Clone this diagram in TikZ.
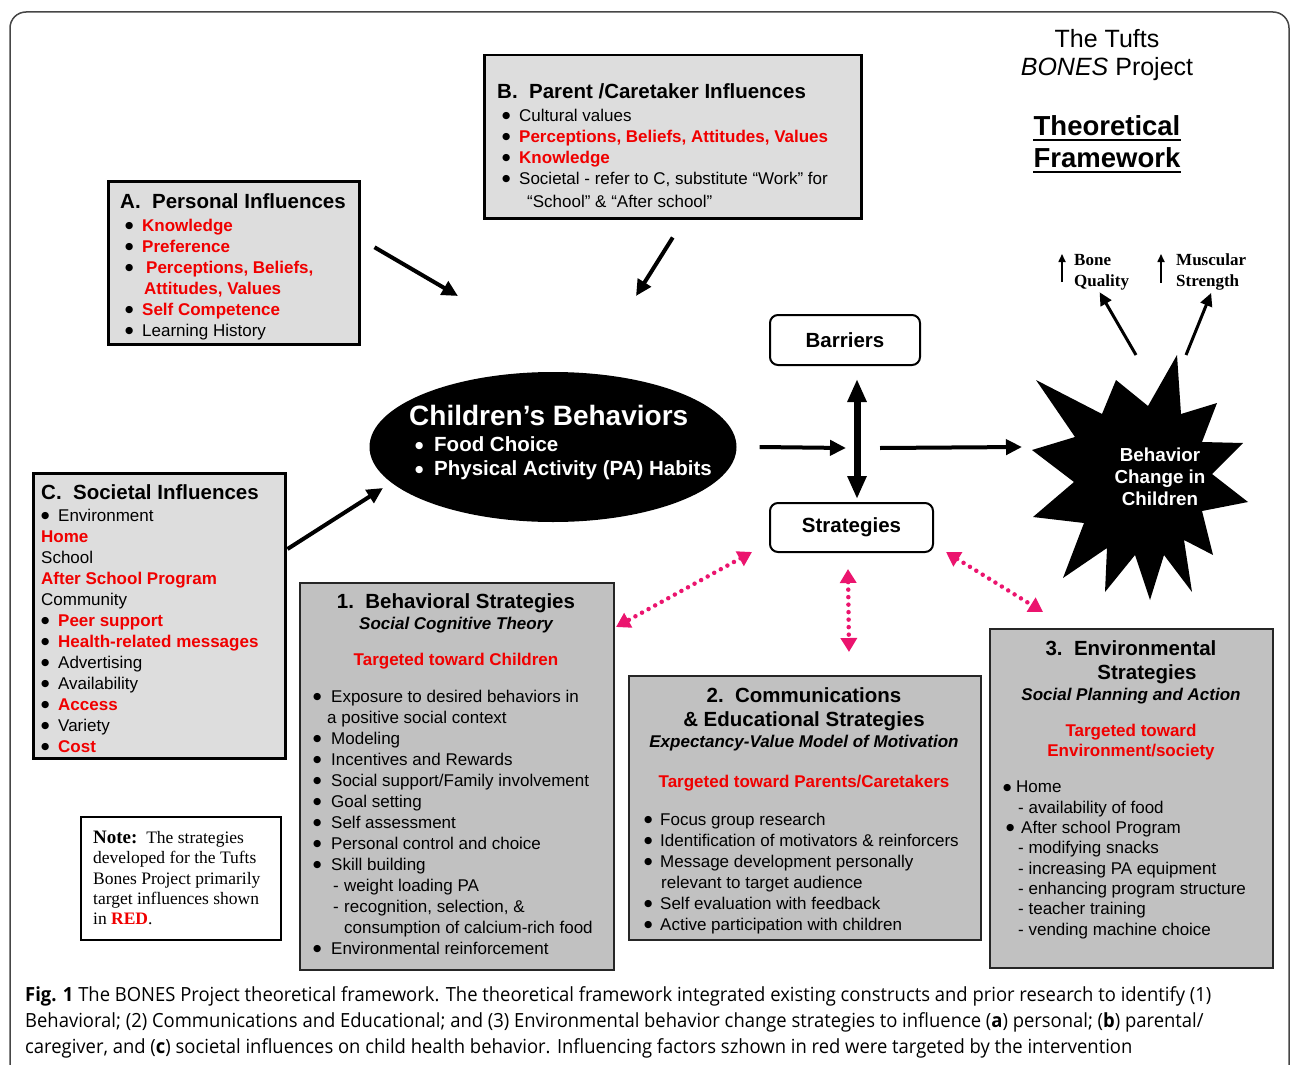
\documentclass[tikz,border=0pt]{standalone}
\usepackage{fontspec}
\setmainfont{Liberation Sans}
\newfontfamily\notefont{Liberation Serif}
\newfontfamily\dotfont{DejaVu Sans}
\newfontfamily\capfont[FakeStretch=0.945]{Open Sans}
\usetikzlibrary{arrows.meta, shapes.geometric, calc}
\definecolor{boxlight}{RGB}{221,221,221}
\definecolor{boxdark}{RGB}{193,193,193}
\definecolor{hired}{RGB}{240,0,0}
\definecolor{dotpink}{RGB}{235,20,110}
\definecolor{framegray}{RGB}{70,70,70}
\newcommand{\hl}[1]{\textcolor{hired}{\bfseries #1}}
\newcommand{\hd}[1]{{\fontsize{20.5}{24}\selectfont\bfseries #1}}
\newcommand{\bul}[1][17pt]{\makebox[#1][l]{\raisebox{2.8pt}{\dotfont\fontsize{9.5}{10}\selectfont ●}}}

\begin{document}
\begin{tikzpicture}[x=1pt, y=-1pt,
    inflbox/.style={draw=black, line width=2.5pt, fill=boxlight, anchor=north west, inner sep=0pt},
    stratbox/.style={draw=black!85, line width=2pt, fill=boxdark, anchor=north west, inner sep=0pt},
    listtext/.style={anchor=north west, inner sep=0pt, align=left, font=\fontsize{17}{21}\selectfont},
    headtext/.style={anchor=north, inner sep=0pt, align=center, font=\fontsize{17}{21}\selectfont},
    roundbox/.style={draw, line width=2pt, rounded corners=8pt, fill=white,
                     font=\fontsize{20.5}{24}\selectfont\bfseries},
    bigarrow/.style={line width=4pt, -{Triangle[length=16pt,width=15pt]}},
    thinarrow/.style={line width=3pt, -{Triangle[length=13pt,width=12pt]}},
    uparrow/.style={line width=1.6pt, -{Triangle[length=8pt,width=7pt]}},
    dotarrow/.style={dotpink, line width=4.5pt, line cap=round, dash pattern=on 0pt off 7.5pt,
                     {Triangle[length=14pt,width=16pt]}-{Triangle[length=14pt,width=16pt]}}]

    \useasboundingbox (0,0) rectangle (1290,1065);
    \draw[framegray, line width=1.5pt, rounded corners=16pt] (10,1075) -- (10,12) -- (1289,12) -- (1289,1075);

    % title
    \node[anchor=north, inner sep=0pt, align=center, font=\fontsize{25}{28}\selectfont] (tufts) at (1107,29)
        {The Tufts\\\textit{BONES} Project};
    \node[anchor=base, inner sep=0pt, font=\fontsize{27.5}{32}\selectfont\bfseries] (theo) at (1107,135) {Theoretical};
    \node[anchor=base, inner sep=0pt, font=\fontsize{27.5}{32}\selectfont\bfseries] (fwork) at (1107,167) {Framework};
    \draw[line width=2.5pt] ([yshift=-5pt]theo.base west) -- ([yshift=-5pt]theo.base east);
    \draw[line width=2.5pt] ([yshift=-5pt]fwork.base west) -- ([yshift=-5pt]fwork.base east);

    % influences
    \node[inflbox, minimum width=251pt, minimum height=163pt] (persbox) at (107,180) {};
    \node[listtext] (perstext) at (120,193) {\hd{A.~~Personal Influences}\\[2pt]
        \hspace*{5pt}\bul\hl{Knowledge}\\
        \hspace*{5pt}\bul\hl{Preference}\\
        \hspace*{5pt}\bul[21pt]\hl{Perceptions, Beliefs,}\\
        \hspace*{24pt}\hl{Attitudes, Values}\\
        \hspace*{5pt}\bul\hl{Self Competence}\\
        \hspace*{5pt}\bul Learning History};

    \node[inflbox, minimum width=377pt, minimum height=163pt] (parbox) at (483,54) {};
    \node[listtext] (partext) at (497,83) {\hd{B.~~Parent /Caretaker Influences}\\[2pt]
        \hspace*{5pt}\bul Cultural values\\
        \hspace*{5pt}\bul\hl{Perceptions, Beliefs, Attitudes, Values}\\
        \hspace*{5pt}\bul\hl{Knowledge}\\
        \hspace*{5pt}\bul Societal - refer to C, substitute “Work” for\\[2pt]
        \hspace*{30pt}“School” \& “After school”};

    \node[inflbox, minimum width=252pt, minimum height=285pt] (socbox) at (32,472) {};
    \node[listtext] (soctext) at (41,484) {\hd{C.~~Societal Influences}\\[1pt]
        \bul Environment\\
        \hl{Home}\\
        School\\
        \hl{After School Program}\\
        Community\\
        \bul\hl{Peer support}\\
        \bul\hl{Health-related messages}\\
        \bul Advertising\\
        \bul Availability\\
        \bul\hl{Access}\\
        \bul Variety\\
        \bul\hl{Cost}};

    \node[draw, line width=2pt, fill=white, anchor=north west, inner sep=0pt,
          minimum width=200pt, minimum height=123pt] (notebox) at (80,816) {};
    \node[listtext, font=\notefont\fontsize{17.5}{20.3}\selectfont] (notetext) at (93,831)
        {{\bfseries\fontsize{19}{20.3}\selectfont Note:}~~The strategies\\
         developed for the Tufts\\
         Bones Project primarily\\
         target influences shown\\
         in \textcolor{hired}{\bfseries RED}.};

    % children's behaviors
    \node[ellipse, fill=black, minimum width=367pt, minimum height=150pt] (kids) at (553,447) {};
    \node[listtext, text=white, font=\fontsize{20.5}{24}\selectfont\bfseries] (kidstext) at (409,405)
        {{\fontsize{28}{24}\selectfont Children’s Behaviors}\\[2pt]
         \hspace*{6pt}\bul[19pt]Food Choice\\
         \hspace*{6pt}\bul[19pt]Physical Activity (PA) Habits};

    \node[roundbox, minimum width=150pt, minimum height=50pt] (barr) at (845,340) {Barriers};
    \node[roundbox, minimum width=163pt, minimum height=49pt] (strat) at (851.5,527.5) {Strategies};

    % behavior change star
    \fill (1036,380) -- (1102,414) -- (1116,380) -- (1148,406) -- (1177,355) -- (1181,414)
        -- (1217,403) -- (1202,442) -- (1243,443) -- (1212,474) -- (1248,502) -- (1202,511)
        -- (1213,555) -- (1184,540) -- (1192,592) -- (1164,555) -- (1150,600) -- (1135,555)
        -- (1105,592) -- (1107,548) -- (1063,578) -- (1084,523) -- (1033,517) -- (1074,482)
        -- (1032,450) -- (1075,437) -- cycle;
    \node[text=white, align=center, font=\fontsize{18.8}{22}\selectfont\bfseries] (change) at (1160,477)
        {Behavior\\Change in\\Children};

    \node[anchor=north west, inner sep=0pt, align=left, font=\notefont\fontsize{17}{21}\selectfont\bfseries] (bone)
        at (1074,254) {Bone\\Quality};
    \node[anchor=north west, inner sep=0pt, align=left, font=\notefont\fontsize{17}{21}\selectfont\bfseries] (muscle)
        at (1176,254) {Muscular\\Strength};
    \draw[uparrow] ([shift={(-12,-8)}]bone.south west) -- ([xshift=-12pt]bone.north west);
    \draw[uparrow] ([shift={(-15,-8)}]muscle.south west) -- ([xshift=-15pt]muscle.north west);

    % strategies
    \node[stratbox, minimum width=314pt, minimum height=387pt] (behbox) at (299,582) {};
    \node[headtext] (behhead) at (456,593) {\hd{1.~~Behavioral Strategies}\\
        {\bfseries\itshape Social Cognitive Theory}\\[15pt]
        \hl{Targeted toward Children}};
    \node[listtext] (behlist) at (313,690) {\bul[18pt]Exposure to desired behaviors in\\
        \hspace*{14pt}a positive social context\\
        \bul[18pt]Modeling\\
        \bul[18pt]Incentives and Rewards\\
        \bul[18pt]Social support/Family involvement\\
        \bul[18pt]Goal setting\\
        \bul[18pt]Self assessment\\
        \bul[18pt]Personal control and choice\\
        \bul[18pt]Skill building\\
        \hspace*{20pt}\makebox[11pt][l]{-}weight loading PA\\
        \hspace*{20pt}\makebox[11pt][l]{-}recognition, selection, \&\\
        \hspace*{31pt}consumption of calcium-rich food\\
        \bul[18pt]Environmental reinforcement};

    \node[stratbox, minimum width=352pt, minimum height=264pt] (combox) at (628,675) {};
    \node[headtext] (comhead) at (804,687) {\hd{2.~~Communications}\\[3pt]
        \hd{\& Educational Strategies}\\
        {\bfseries\itshape Expectancy-Value Model of Motivation}\\[19pt]
        \hl{Targeted toward Parents/Caretakers}};
    \node[listtext] (comlist) at (644,813) {\bul[16pt]Focus group research\\
        \bul[16pt]Identification of motivators \& reinforcers\\
        \bul[16pt]Message development personally\\
        \hspace*{17pt}relevant to target audience\\
        \bul[16pt]Self evaluation with feedback\\
        \bul[16pt]Active participation with children};

    \node[stratbox, minimum width=283pt, minimum height=339pt] (envbox) at (989,628) {};
    \node[headtext] (envhead) at (1131,640) {\hd{3.~~Environmental}\\[3pt]
        \hspace*{32pt}\hd{Strategies}\\
        {\bfseries\itshape Social Planning and Action}\\[15pt]
        \hl{Targeted toward}\\[-1pt]
        \hl{Environment/society}};
    \node[listtext, font=\fontsize{17}{20.3}\selectfont] (envlist) at (1003,781) {\bul[13pt]Home\\
        \hspace*{15pt}- availability of food\\
        \hspace*{3pt}\bul[15pt]After school Program\\
        \hspace*{15pt}- modifying snacks\\
        \hspace*{15pt}- increasing PA equipment\\
        \hspace*{15pt}- enhancing program structure\\
        \hspace*{15pt}- teacher training\\
        \hspace*{15pt}- vending machine choice};

    % connectors
    \draw[bigarrow] ([shift={(14,-15.5)}]persbox.east) -- ([shift={(-95,-151)}]kids.center);
    \draw[bigarrow] ([yshift=-18pt]parbox.south) -- ([shift={(83,-151)}]kids.center);
    \draw[bigarrow] ([shift={(1,77)}]socbox.north east) -- ([shift={(-170,41)}]kids.center);
    \draw[bigarrow] ([xshift=23pt]kids.east) -- ([shift={(1,82)}]barr.south);
    \draw[bigarrow] ([shift={(35,82)}]barr.south) -- ([shift={(-138,-30)}]change.center);
    \draw[line width=7pt, {Triangle[length=23pt,width=18pt]}-{Triangle[length=23pt,width=18pt]}]
        ([shift={(12,13)}]barr.south) -- ([shift={(5.5,-3)}]strat.north);
    \draw[thinarrow] ([shift={(-24,-122)}]change.center) -- ([shift={(-2,2)}]bone.south);
    \draw[thinarrow] ([shift={(26,-122)}]change.center) -- ([yshift=-2pt]muscle.south);

    \draw[dotarrow] ([shift={(-17,-1)}]strat.south west) -- ([shift={(1,45)}]behbox.north east);
    \draw[dotarrow] ([shift={(-3.5,16)}]strat.south) -- ([shift={(44,-23)}]combox.north);
    \draw[dotarrow] ([shift={(12,-1)}]strat.south east) -- ([shift={(54,-16)}]envbox.north west);

    % caption
    \node[listtext, font=\capfont\fontsize{19.5}{26}\selectfont] (caption) at (25,986)
        {{\bfseries Fig. 1} The BONES Project theoretical framework. The theoretical framework integrated existing constructs and prior research to identify (1)\\
         Behavioral; (2) Communications and Educational; and (3) Environmental behavior change strategies to influence ({\bfseries a}) personal; ({\bfseries b}) parental/\\
         caregiver, and ({\bfseries c}) societal influences on child health behavior. Influencing factors szhown in red were targeted by the intervention};
\end{tikzpicture}
\end{document}
